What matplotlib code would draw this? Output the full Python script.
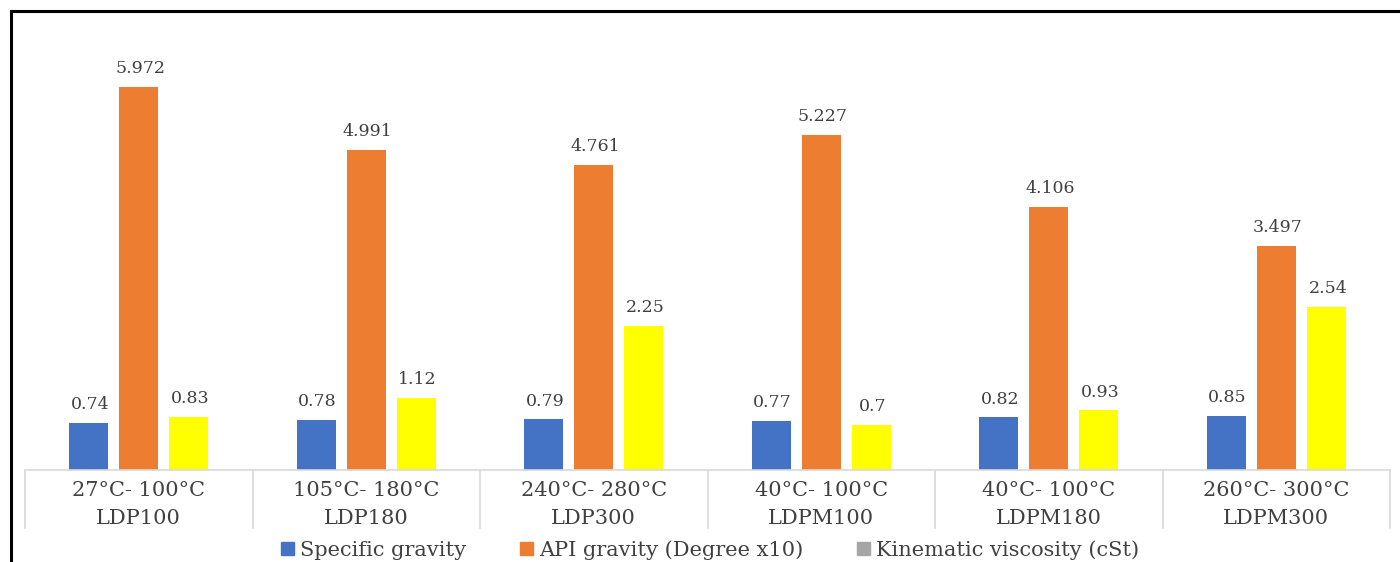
import numpy as np
import matplotlib.pyplot as plt
from matplotlib.patches import Patch
from matplotlib.lines import Line2D

# fractions and their boiling ranges
samples = ['LDP100', 'LDP180', 'LDP300', 'LDPM100', 'LDPM180', 'LDPM300']
temp_ranges = ['27°C- 100°C', '105°C- 180°C', '240°C- 280°C',
               '40°C- 100°C', '40°C- 100°C', '260°C- 300°C']

specific_gravity = [0.74, 0.78, 0.79, 0.77, 0.82, 0.85]
api_gravity = [5.972, 4.991, 4.761, 5.227, 4.106, 3.497]
kin_viscosity = [0.83, 1.12, 2.25, 0.70, 0.93, 2.54]

plt.rcParams['font.family'] = ['DejaVu Serif']
txt_col = '#404040'

fig = plt.figure(figsize=(14, 5.62), dpi=100)
ax = fig.add_axes([25 / 1400, 92 / 562, 1365 / 1400, 450 / 562])

x = np.arange(len(samples))
w = 0.171
off = 0.22
b1 = ax.bar(x - off, specific_gravity, w, color='#4472C4')
b2 = ax.bar(x, api_gravity, w, color='#ED7D31')
b3 = ax.bar(x + off, kin_viscosity, w, color='#FFFF00')

for bars, vals in [(b1, specific_gravity), (b2, api_gravity), (b3, kin_viscosity)]:
    for b, v in zip(bars, vals):
        ax.annotate(f'{v:g}', (b.get_x() + b.get_width() / 2, v),
                    xytext=(1, 7), textcoords='offset points',
                    ha='center', va='bottom', fontsize=12.5, color=txt_col)

ax.set_xlim(-0.5, 5.5)
ax.set_ylim(0, 450 / 64.1)
ax.axis('off')

# baseline and category table below the bars
ax.axhline(0, color='#d9d9d9', lw=1.2, clip_on=False)
trans = ax.get_xaxis_transform()
for xs in np.arange(-0.5, 6, 1):
    ax.plot([xs, xs], [0, -58 / 450], color='#d9d9d9', lw=1.2,
            transform=trans, clip_on=False)
for i in range(len(samples)):
    ax.text(i, -20 / 450, temp_ranges[i], transform=trans, ha='center',
            va='center', fontsize=15, color=txt_col)
    ax.text(i, -49 / 450, samples[i], transform=trans, ha='center',
            va='center', fontsize=15, color=txt_col)

handles = [Patch(color='#4472C4'), Patch(color='#ED7D31'), Patch(color='#A5A5A5')]
labels = ['Specific gravity', 'API gravity (Degree x10)', 'Kinematic viscosity (cSt)']
fig.legend(handles, labels, loc='center', bbox_to_anchor=(710 / 1400, 1 - 550 / 562),
           ncol=3, frameon=False, fontsize=15, handlelength=0.62,
           handleheight=0.62, handletextpad=0.29, columnspacing=2.6,
           labelcolor=txt_col, borderpad=0, borderaxespad=0)

# outer frame (top and left edges)
fig.add_artist(Line2D([11 / 1400, 1], [1 - 11 / 562, 1 - 11 / 562],
                      color='black', lw=2.2))
fig.add_artist(Line2D([11 / 1400, 11 / 1400], [0, 1 - 11 / 562],
                      color='black', lw=2.2))

fig.savefig('out.png', dpi=100)
